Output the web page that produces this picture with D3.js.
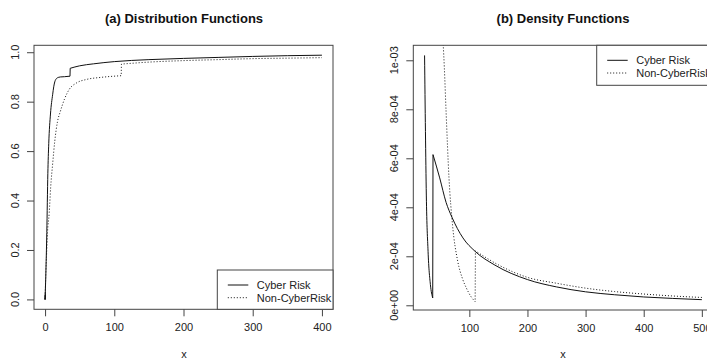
<!DOCTYPE html>
<html>
<head>
<meta charset="utf-8">
<script src="https://cdn.jsdelivr.net/npm/d3@7"></script>
<style>
  body { margin: 0; background: #fff; }
  svg { display: block; font-family: "Liberation Sans", Arial, sans-serif; }
</style>
</head>
<body>
<div id="plot"></div>
<script>
// panel (a): distribution functions
const cdfCyberX = [0, 0.5, 1, 2.5, 4, 5.3, 7.8, 11, 12.5, 14, 15.5, 17, 19, 22, 28, 36, 36.3, 50, 70, 100, 150, 200, 250, 300, 350, 400];
const cdfCyberY = [0, 0.02, 0.09, 0.27, 0.51, 0.63, 0.75, 0.83, 0.86, 0.88, 0.89, 0.895, 0.898, 0.90, 0.901, 0.903, 0.935, 0.945, 0.953, 0.962, 0.970, 0.975, 0.979, 0.983, 0.986, 0.988];
const cdfNonX = [0, 0.5, 1, 2, 3.5, 6, 8, 11, 14, 18, 22, 28, 35, 45, 60, 80, 110, 110.3, 150, 200, 250, 300, 350, 400];
const cdfNonY = [0, 0.03, 0.1, 0.17, 0.27, 0.35, 0.45, 0.55, 0.64, 0.72, 0.76, 0.81, 0.85, 0.875, 0.89, 0.898, 0.905, 0.952, 0.96, 0.966, 0.970, 0.974, 0.976, 0.978];
const cdfXTicks = [0, 100, 200, 300, 400];
const cdfYTicks = [0, 0.2, 0.4, 0.6, 0.8, 1.0];
const cdfYLabels = ["0.0", "0.2", "0.4", "0.6", "0.8", "1.0"];

// panel (b): density functions
const pdfCyberX = [23, 24.5, 26, 29, 33, 37, 37.5, 49, 60, 70, 89, 110, 144, 200, 250, 300, 350, 400, 450, 500];
const pdfCyberY = [1.02e-3, 7.1e-4, 4.5e-4, 2.2e-4, 0.85e-4, 0.3e-4, 6.15e-4, 5.2e-4, 4.2e-4, 3.6e-4, 2.75e-4, 2.2e-4, 1.64e-4, 1.05e-4, 0.75e-4, 0.55e-4, 0.43e-4, 0.34e-4, 0.28e-4, 0.23e-4];
const pdfNonX = [53, 57, 60, 65, 71, 80, 88, 95, 103, 110, 110.5, 150, 200, 250, 300, 350, 400, 450, 500];
const pdfNonY = [1.15e-3, 9.7e-4, 7.9e-4, 5.2e-4, 3.3e-4, 1.8e-4, 1.1e-4, 0.7e-4, 0.35e-4, 0.15e-4, 2.22e-4, 1.65e-4, 1.14e-4, 0.9e-4, 0.7e-4, 0.56e-4, 0.46e-4, 0.38e-4, 0.32e-4];
const pdfXTicks = [100, 200, 300, 400, 500];
const pdfYTicks = [0, 2e-4, 4e-4, 6e-4, 8e-4, 1e-3];
const pdfYLabels = ["0e+00", "2e-04", "4e-04", "6e-04", "8e-04", "1e-03"];

const legendNames = ["Cyber Risk", "Non-CyberRisk"];
const dashes = [null, "1,2"];

const width = 707, height = 358;
const svg = d3.select("#plot").append("svg")
  .attr("width", width)
  .attr("height", height);

function panel(opt) {
  const x = d3.scaleLinear().domain(opt.xDomain).range([opt.left, opt.right]);
  const y = d3.scaleLinear().domain(opt.yDomain).range([opt.bottom, opt.top]);
  const g = svg.append("g");

  g.append("clipPath").attr("id", opt.id)
    .append("rect")
    .attr("x", opt.left).attr("y", opt.top)
    .attr("width", opt.right - opt.left).attr("height", opt.bottom - opt.top);

  // curves: smooth pieces, joined by straight jumps
  const line = d3.line().x(d => x(d[0])).y(d => y(d[1])).curve(d3.curveMonotoneX);
  function jumpPath(pts) {
    const pieces = [[pts[0]]];
    for (let i = 1; i < pts.length; i++) {
      if (pts[i][0] - pts[i - 1][0] < 1) pieces.push([]);
      pieces[pieces.length - 1].push(pts[i]);
    }
    return pieces.map((p, i) => i === 0 ? line(p) : "L" + line(p).slice(1)).join("");
  }
  opt.series.forEach((s, i) => {
    g.append("path")
      .datum(d3.zip(s[0], s[1]))
      .attr("clip-path", `url(#${opt.id})`)
      .attr("d", jumpPath)
      .attr("fill", "none")
      .attr("stroke", "#111")
      .attr("stroke-width", 1)
      .attr("stroke-dasharray", dashes[i]);
  });

  // box
  g.append("rect")
    .attr("x", opt.left).attr("y", opt.top)
    .attr("width", opt.right - opt.left).attr("height", opt.bottom - opt.top)
    .attr("fill", "none").attr("stroke", "#444");

  // x axis
  const xa = g.append("g")
    .attr("transform", `translate(0,${opt.bottom})`)
    .call(d3.axisBottom(x).tickValues(opt.xTicks).tickSize(7).tickPadding(7).tickFormat(d3.format("d")));
  xa.select(".domain").remove();
  xa.selectAll("line").attr("stroke", "#444");
  xa.selectAll("text").attr("font-size", 11).attr("fill", "#222").attr("font-family", "Liberation Sans, Arial, sans-serif");

  // y axis
  const ya = g.append("g")
    .attr("transform", `translate(${opt.left},0)`)
    .call(d3.axisLeft(y).tickValues(opt.yTicks).tickSize(7).tickFormat(""));
  ya.select(".domain").remove();
  ya.selectAll("line").attr("stroke", "#444");
  g.selectAll("text.ylab")
    .data(opt.yTicks)
    .join("text")
    .attr("class", "ylab")
    .attr("transform", d => `translate(${opt.left - 15},${y(d)}) rotate(-90)`)
    .attr("text-anchor", "middle")
    .attr("font-size", 11)
    .attr("fill", "#222")
    .text((d, i) => opt.yLabels[i]);

  // title and x label
  g.append("text")
    .attr("x", opt.titleX).attr("y", 23)
    .attr("text-anchor", "middle")
    .attr("font-size", 13).attr("font-weight", "bold")
    .attr("fill", "#111")
    .text(opt.title);
  g.append("text")
    .attr("x", opt.titleX).attr("y", 358)
    .attr("text-anchor", "middle")
    .attr("font-size", 11).attr("fill", "#222")
    .text("x");

  // legend
  const L = opt.legend;
  g.append("rect")
    .attr("x", L.x).attr("y", L.y)
    .attr("width", L.w).attr("height", L.h)
    .attr("fill", "#fff").attr("stroke", "#444");
  legendNames.forEach((name, i) => {
    const ly = L.y + 15 + i * 12.7;
    g.append("line")
      .attr("x1", L.x + 10.5).attr("x2", L.x + 31)
      .attr("y1", ly).attr("y2", ly)
      .attr("stroke", "#111")
      .attr("stroke-dasharray", dashes[i]);
    g.append("text")
      .attr("x", L.x + 39.5).attr("y", ly + 4)
      .attr("font-size", 11).attr("fill", "#222")
      .text(name);
  });
}

panel({
  id: "clipA",
  left: 34, right: 333, top: 45.3, bottom: 309.3,
  xDomain: [-16, 416], yDomain: [-0.04, 1.028],
  xTicks: cdfXTicks, yTicks: cdfYTicks, yLabels: cdfYLabels,
  series: [[cdfCyberX, cdfCyberY], [cdfNonX, cdfNonY]],
  title: "(a) Distribution Functions", titleX: 184,
  legend: { x: 217.3, y: 270, w: 115.7, h: 39.3 }
});

panel({
  id: "clipB",
  left: 413.3, right: 713, top: 45.3, bottom: 310,
  xDomain: [3.6, 519.2], yDomain: [-1.92e-5, 1.0612e-3],
  xTicks: pdfXTicks, yTicks: pdfYTicks, yLabels: pdfYLabels,
  series: [[pdfCyberX, pdfCyberY], [pdfNonX, pdfNonY]],
  title: "(b) Density Functions", titleX: 563,
  legend: { x: 596.7, y: 45.3, w: 130, h: 40 }
});
</script>
</body>
</html>
